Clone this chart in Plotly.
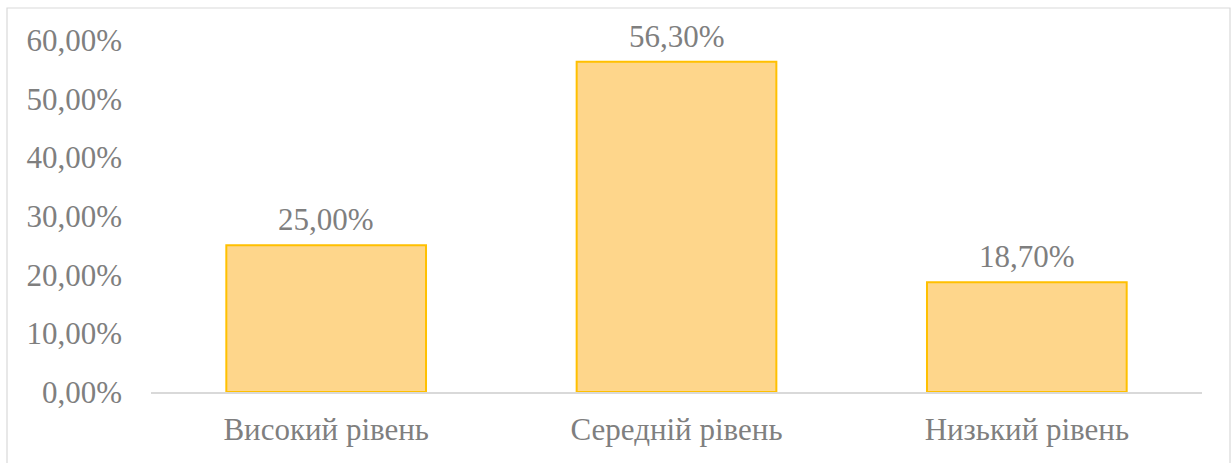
import plotly.graph_objects as go

categories = ["Високий рівень", "Середній рівень", "Низький рівень"]
values = [25.00, 56.30, 18.70]
y_ticks = [0, 10, 20, 30, 40, 50, 60]

labels = [f"{v:.2f}%".replace(".", ",") for v in values]
tick_text = [f"{t:.2f}%".replace(".", ",") for t in y_ticks]

FONT = "Liberation Serif"
GRAY = "#7f7f7f"
FS = 31

fig = go.Figure(go.Bar(
    x=categories, y=values,
    marker=dict(color="#fed68b", line=dict(color="#ffc000", width=2)),
    width=0.57,
))

for c, v, t in zip(categories, values, labels):
    fig.add_annotation(x=c, y=v, text=t, showarrow=False, yanchor="bottom",
                       yshift=6, font=dict(family=FONT, size=FS, color=GRAY))

W, H = 1231, 463
L, R, T, B = 151, 29, 40, 71
pw, ph = W - L - R, H - T - B

fig.add_shape(type="rect", xref="paper", yref="paper",
              x0=(7 - L) / pw, x1=(1230 - L) / pw,
              y0=(H - B - 470) / ph, y1=(H - B - 8) / ph,
              line=dict(color="#d9d9d9", width=1.2), fillcolor="rgba(0,0,0,0)", layer="below")

fig.update_layout(
    width=W, height=H,
    margin=dict(l=L, r=R, t=T, b=B),
    plot_bgcolor="white", paper_bgcolor="white",
    showlegend=False,
    font=dict(family=FONT, size=FS, color=GRAY),
    xaxis=dict(showline=True, linecolor="#d9d9d9", linewidth=2, ticks="",
               tickfont=dict(family=FONT, size=FS, color=GRAY), showgrid=False,
               ticklabelstandoff=9, automargin=False),
    yaxis=dict(range=[0, 60], tickvals=y_ticks, ticktext=tick_text, showgrid=False,
               zeroline=False, showline=False, ticks="", automargin=False,
               ticklabelstandoff=28,
               tickfont=dict(family=FONT, size=FS, color=GRAY)),
)

fig.write_html("out.html", config={"displayModeBar": False},
               post_script="document.body.style.margin='0';document.body.style.padding='0';")
